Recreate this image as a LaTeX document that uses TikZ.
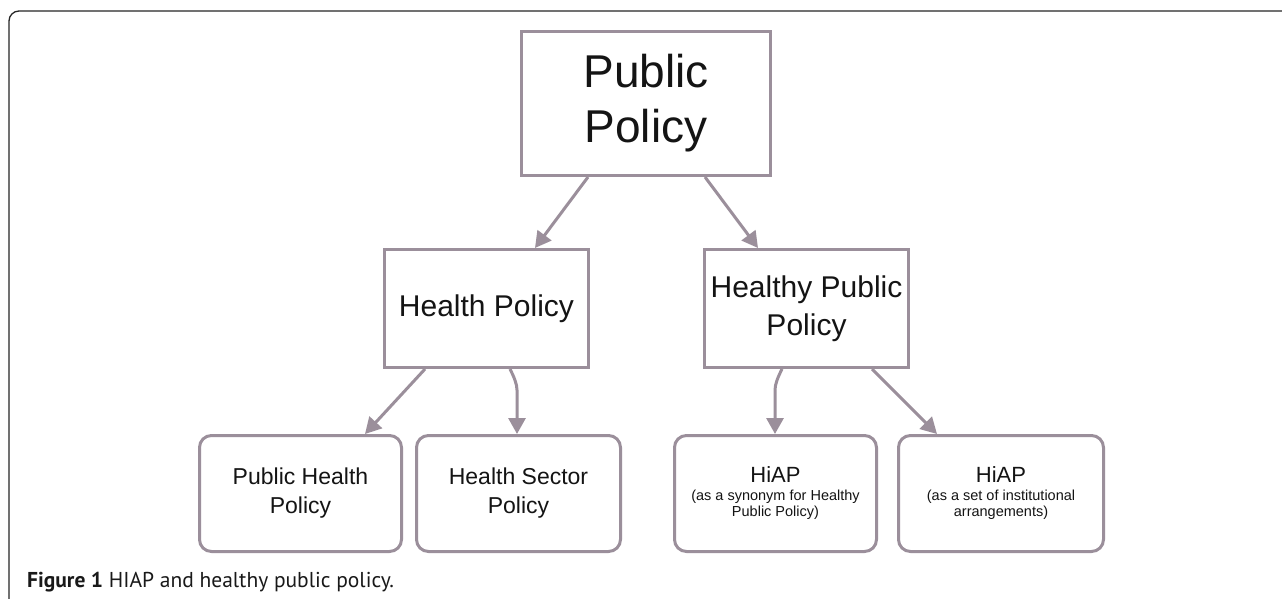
\documentclass[tikz,border=0pt]{standalone}
\usepackage{fontspec}
\setmainfont{Liberation Sans}
\newfontfamily\capfont{PT Sans}
\usetikzlibrary{arrows.meta,calc}
\definecolor{boxline}{RGB}{155,143,155}
\definecolor{txt}{RGB}{20,20,20}
\begin{document}
\begin{tikzpicture}[x=1pt,y=-1pt,
  sqbox/.style={draw=boxline, line width=3pt, fill=white, align=center, text=txt, inner sep=2pt},
  rbox/.style={sqbox, rounded corners=12pt, minimum width=202pt, minimum height=116pt},
  arr/.style={draw=boxline, line width=3pt, -{Triangle[length=16pt,width=17pt]}},
  frameline/.style={draw=black!85, line width=1.3pt}
]
\useasboundingbox (0,0) rectangle (1282,599);
\clip (0,0) rectangle (1282,599);
\fill[white] (0,0) rectangle (1282,599);
% outer frame
\draw[frameline, rounded corners=10pt] (1290,11) -- (9,11) -- (9,610);

% nodes
\node[sqbox, minimum width=249pt, minimum height=144pt, font=\fontsize{46}{55}\selectfont] (pp) at (646,103.5) {Public\\Policy};
\node[sqbox, minimum width=204pt, minimum height=118pt, font=\fontsize{30}{38}\selectfont] (hp) at (486.5,308.5) {Health Policy};
\node[sqbox, minimum width=204pt, minimum height=118pt, font=\fontsize{30}{38}\selectfont] (hpp) at (806.5,308.5) {Healthy Public\\Policy};

\node[rbox, font=\fontsize{23}{29}\selectfont] (php) at (300.5,493.5) {Public Health\\Policy};
\node[rbox, minimum width=204pt, font=\fontsize{23}{29}\selectfont] (hsp) at (518.5,493.5) {Health Sector\\Policy};
\node[rbox, font=\fontsize{14.5}{16.5}\selectfont] (hiap1) at (775.5,493.5) {{\fontsize{22}{25}\selectfont HiAP}\\[1pt](as a synonym for Healthy\\Public Policy)};
\node[rbox, minimum width=205pt, font=\fontsize{14.5}{16.5}\selectfont] (hiap2) at (1001,493.5) {{\fontsize{22}{25}\selectfont HiAP}\\[1pt](as a set of institutional\\arrangements)};

% connectors
\draw[arr] ([xshift=-58pt]pp.south) -- ([xshift=48.5pt]hp.north);
\draw[arr] ([xshift=59pt]pp.south) -- ([xshift=-48.5pt]hpp.north);
\draw[arr] ([xshift=-61.5pt]hp.south) -- ([xshift=64.5pt]php.north);
\coordinate (b1) at (517,390);
\draw[arr] ([xshift=23.5pt]hp.south) .. controls +(4,8) and +(0,-6) .. (b1) -- (b1 |- hsp.north);
\coordinate (b2) at (775,390);
\draw[arr] ([xshift=-24.5pt]hpp.south) .. controls +(-4,8) and +(0,-6) .. (b2) -- (b2 |- hiap1.north);
\draw[arr] ([xshift=65.5pt]hpp.south) -- ([xshift=-64pt]hiap2.north);

% caption
\node[anchor=base west, inner sep=0pt, text=black!90, font=\capfont\fontsize{21.5}{24}\selectfont] (cap) at (27,587) {\textbf{Figure 1} HIAP and healthy public policy.};
\end{tikzpicture}
\end{document}
